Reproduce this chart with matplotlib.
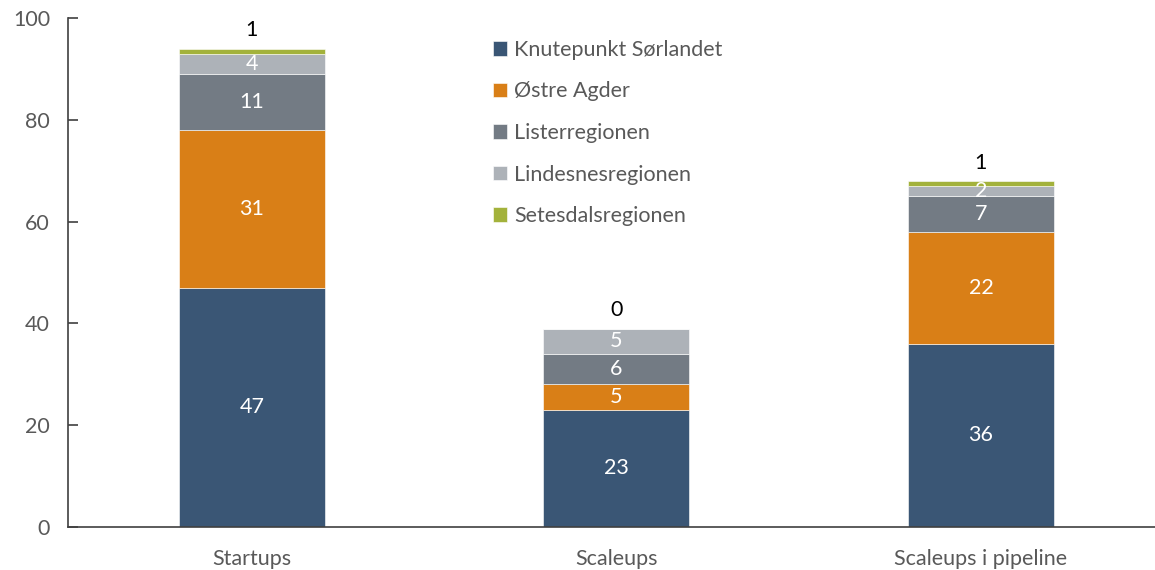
import matplotlib
matplotlib.use("Agg")
import matplotlib.pyplot as plt
import numpy as np

categories = ["Startups", "Scaleups", "Scaleups i pipeline"]
series_names = ["Knutepunkt Sørlandet", "Østre Agder", "Listerregionen",
                "Lindesnesregionen", "Setesdalsregionen"]
knutepunkt = [47, 23, 36]
ostre_agder = [31, 5, 22]
lister = [11, 6, 7]
lindesnes = [4, 5, 2]
setesdal = [1, 0, 1]
yticks = [0, 20, 40, 60, 80, 100]

colors = ["#3A5675", "#D97F17", "#737B84", "#ADB2B8", "#A3B23B"]

plt.rcParams['font.family'] = ['Lato', 'DejaVu Sans']
FS = 15.5

fig = plt.figure(figsize=(11.55, 5.7), dpi=100)
ax = fig.add_axes([0.0589, 0.0754, 0.941, 0.893])

x = np.arange(len(categories))
data = [knutepunkt, ostre_agder, lister, lindesnes, setesdal]
bottom = np.zeros(len(categories))
for i, (vals, name, col) in enumerate(zip(data, series_names, colors)):
    vals = np.array(vals, dtype=float)
    ax.bar(x, vals, 0.4, bottom=bottom, color=col, label=name,
           edgecolor="white", linewidth=0.4)
    if i < 4:
        for xi, v, b in zip(x, vals, bottom):
            ax.text(xi, b + v / 2, f"{int(v)}", ha="center", va="center",
                    color="white", fontsize=FS)
    else:
        for xi, v, b in zip(x, vals, bottom):
            ax.text(xi, b + v + 1.6, f"{int(v)}", ha="center", va="bottom",
                    color="black", fontsize=FS)
    bottom += vals

ax.set_xlim(-0.504, 2.477)
ax.set_ylim(0, 100)
ax.set_yticks(yticks)
ax.set_xticks(x)
ax.set_xticklabels(categories)
for s in ["top", "right"]:
    ax.spines[s].set_visible(False)
for s in ["left", "bottom"]:
    ax.spines[s].set_color("#404040")
    ax.spines[s].set_linewidth(1.2)
ax.tick_params(axis="y", direction="in", length=7, width=1.2, color="#404040",
               labelsize=FS, labelcolor="#595959", pad=13)
ax.tick_params(axis="x", length=0, labelsize=FS, labelcolor="#595959", pad=16)

leg = ax.legend(loc="upper left", bbox_to_anchor=(0.373, 0.995), frameon=False,
                fontsize=FS, labelcolor="#595959", handlelength=0.65,
                handleheight=0.65, handletextpad=0.35, labelspacing=1.0)

fig.savefig("out.png", dpi=100)
